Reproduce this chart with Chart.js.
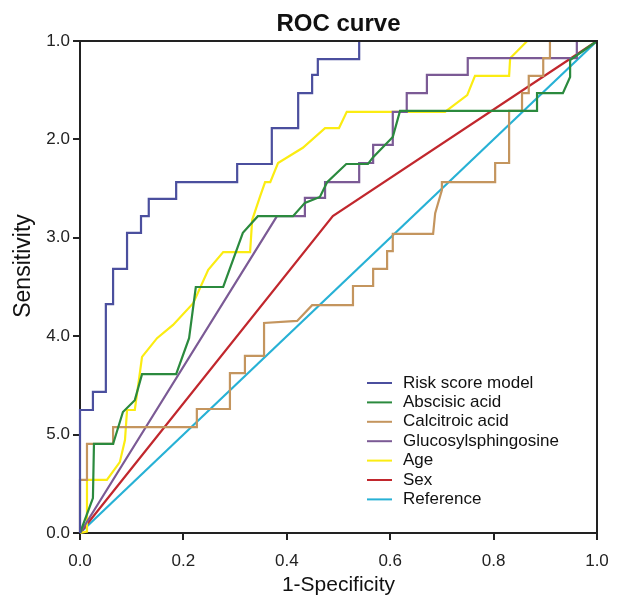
<!DOCTYPE html>
<html>
<head>
<meta charset="utf-8">
<title>ROC curve</title>
<script src="https://cdn.jsdelivr.net/npm/chart.js@4.4.1/dist/chart.umd.min.js"></script>
<style>
  html, body { margin: 0; padding: 0; background: #fff; }
  #wrap { width: 618px; height: 598px; }
</style>
</head>
<body>
<div id="wrap"><canvas id="roc"></canvas></div>
<script>
// Tick labels, as printed on the original figure
const xTickLabels = ["0.0", "0.2", "0.4", "0.6", "0.8", "1.0"];
const yTickLabels = ["0.0", "5.0", "4.0", "3.0", "2.0", "1.0"];

// Series names
const seriesNames = ["Risk score model", "Abscisic acid", "Calcitroic acid", "Glucosylsphingosine", "Age", "Sex", "Reference"];

// ROC points [1-specificity, sensitivity]
const riskScore = [[0,0],[0,0.25],[0.025,0.25],[0.025,0.287],[0.05,0.287],[0.05,0.465],[0.064,0.465],[0.064,0.537],
  [0.091,0.537],[0.091,0.61],[0.118,0.61],[0.118,0.644],[0.133,0.644],[0.133,0.679],[0.186,0.679],[0.186,0.713],
  [0.304,0.713],[0.304,0.75],[0.371,0.75],[0.371,0.823],[0.422,0.823],[0.422,0.894],[0.449,0.894],[0.449,0.931],
  [0.46,0.931],[0.46,0.963],[0.54,0.963],[0.54,1],[1,1]];
const abscisicAcid = [[0,0],[0.025,0.071],[0.027,0.181],[0.064,0.181],[0.083,0.246],[0.106,0.27],[0.12,0.323],
  [0.186,0.323],[0.211,0.396],[0.224,0.5],[0.277,0.5],[0.315,0.61],[0.344,0.644],[0.412,0.644],[0.435,0.671],
  [0.464,0.683],[0.478,0.713],[0.515,0.75],[0.557,0.75],[0.567,0.764],[0.605,0.805],[0.619,0.858],[0.884,0.858],
  [0.884,0.894],[0.934,0.894],[0.948,0.927],[0.948,0.961],[1,1]];
const calcitroicAcid = [[0,0],[0,0.108],[0.0135,0.108],[0.0135,0.181],[0.064,0.181],[0.064,0.215],[0.226,0.215],
  [0.226,0.252],[0.29,0.252],[0.29,0.325],[0.319,0.325],[0.319,0.36],[0.356,0.36],[0.356,0.427],[0.42,0.431],
  [0.449,0.463],[0.528,0.463],[0.528,0.502],[0.567,0.502],[0.567,0.537],[0.594,0.537],[0.594,0.573],[0.605,0.573],
  [0.605,0.608],[0.683,0.608],[0.687,0.65],[0.7,0.697],[0.7,0.713],[0.803,0.713],[0.803,0.752],[0.83,0.752],
  [0.83,0.858],[0.855,0.858],[0.855,0.894],[0.868,0.894],[0.868,0.929],[0.896,0.929],[0.896,0.965],[0.909,0.965],
  [0.909,1],[1,1]];
const glucosylsphingosine = [[0,0],[0.381,0.644],[0.435,0.644],[0.435,0.681],[0.474,0.681],[0.474,0.713],
  [0.54,0.713],[0.54,0.752],[0.567,0.752],[0.567,0.789],[0.605,0.789],[0.605,0.856],[0.632,0.856],[0.632,0.894],
  [0.671,0.894],[0.671,0.931],[0.75,0.931],[0.75,0.965],[0.961,0.965],[0.961,1],[1,1]];
const age = [[0,0],[0.0135,0.003],[0.0135,0.108],[0.052,0.108],[0.077,0.144],[0.087,0.189],[0.091,0.25],
  [0.106,0.25],[0.12,0.358],[0.149,0.396],[0.18,0.423],[0.219,0.467],[0.248,0.535],[0.277,0.571],[0.329,0.571],
  [0.333,0.636],[0.348,0.683],[0.358,0.713],[0.368,0.713],[0.383,0.752],[0.431,0.783],[0.474,0.823],[0.501,0.823],
  [0.516,0.856],[0.706,0.856],[0.749,0.89],[0.764,0.929],[0.83,0.929],[0.832,0.965],[0.865,1],[1,1]];
const sex = [[0,0],[0.489,0.644],[1,1]];
const reference = [[0,0],[1,1]];

const seriesColors = ["#4b4f9e", "#2b8a3e", "#c4955e", "#7b5a95", "#fbec12", "#c1272d", "#27b1d5"];

const allSeries = [riskScore, abscisicAcid, calcitroicAcid, glucosylsphingosine, age, sex, reference];

const datasets = allSeries.map((pts, i) => ({
  label: seriesNames[i],
  data: pts.map(p => ({ x: p[0], y: p[1] })),
  borderColor: seriesColors[i],
  backgroundColor: seriesColors[i],
  borderWidth: 2.2,
  pointRadius: 0,
  tension: 0,
  fill: false,
  clip: 3,
}));

// Draws the title, the y title, the closed frame and the inside legend
const decorations = {
  id: "decorations",
  afterDatasetsDraw(chart) {
    const { ctx, chartArea } = chart;
    ctx.save();

    // closed box round the plot
    ctx.strokeStyle = "#222";
    ctx.lineWidth = 2;
    ctx.beginPath();
    ctx.moveTo(chartArea.left, chartArea.top);
    ctx.lineTo(chartArea.right, chartArea.top);
    ctx.lineTo(chartArea.right, chartArea.bottom);
    ctx.stroke();

    // title
    ctx.fillStyle = "#111";
    ctx.font = "bold 24px 'Liberation Sans', Arial, sans-serif";
    ctx.textAlign = "center";
    ctx.textBaseline = "alphabetic";
    ctx.fillText("ROC curve", (chartArea.left + chartArea.right) / 2, 31);

    // y axis title
    ctx.save();
    ctx.translate(24, 266);
    ctx.rotate(-Math.PI / 2);
    ctx.font = "23px 'Liberation Sans', Arial, sans-serif";
    ctx.textBaseline = "middle";
    ctx.fillText("Sensitivity", 0, 0);
    ctx.restore();

    // legend
    ctx.font = "17px 'Liberation Sans', Arial, sans-serif";
    ctx.textAlign = "left";
    ctx.textBaseline = "middle";
    chart.data.datasets.forEach((ds, i) => {
      const y = 383 + i * 19.4;
      ctx.strokeStyle = ds.borderColor;
      ctx.lineWidth = 2;
      ctx.beginPath();
      ctx.moveTo(367, y);
      ctx.lineTo(392, y);
      ctx.stroke();
      ctx.fillStyle = "#111";
      ctx.fillText(ds.label, 403, y);
    });

    ctx.restore();
  },
};

new Chart(document.getElementById("roc"), {
  type: "line",
  data: { datasets },
  options: {
    responsive: true,
    maintainAspectRatio: false,
    animation: false,
    layout: { padding: { left: 0, right: 21, top: 41, bottom: 0 } },
    plugins: {
      legend: { display: false },
      title: { display: false },
      tooltip: { enabled: false },
    },
    scales: {
      x: {
        type: "linear",
        min: 0,
        max: 1,
        afterFit: (scale) => {
          scale.height = 65;
          scale.paddingLeft = 0;
          scale.paddingRight = 0;
        },
        border: { display: true, color: "#222", width: 2 },
        grid: { drawOnChartArea: false, drawTicks: true, tickLength: 7, color: "#222", lineWidth: 2 },
        ticks: {
          stepSize: 0.2,
          padding: 11,
          color: "#222",
          font: { family: "'Liberation Sans', Arial, sans-serif", size: 17 },
          maxRotation: 0,
          callback: (v, i) => xTickLabels[i],
        },
        title: {
          display: true,
          text: "1-Specificity",
          color: "#111",
          font: { family: "'Liberation Sans', Arial, sans-serif", size: 21 },
          padding: { top: 0, bottom: 0 },
        },
      },
      y: {
        type: "linear",
        min: 0,
        max: 1,
        afterFit: (scale) => {
          scale.width = 80;
          scale.paddingTop = 0;
          scale.paddingBottom = 0;
        },
        border: { display: true, color: "#222", width: 2 },
        grid: { drawOnChartArea: false, drawTicks: true, tickLength: 7, color: "#222", lineWidth: 2 },
        ticks: {
          stepSize: 0.2,
          padding: 3,
          color: "#222",
          font: { family: "'Liberation Sans', Arial, sans-serif", size: 17 },
          callback: (v, i) => yTickLabels[i],
        },
      },
    },
  },
  plugins: [decorations],
});
</script>
</body>
</html>
